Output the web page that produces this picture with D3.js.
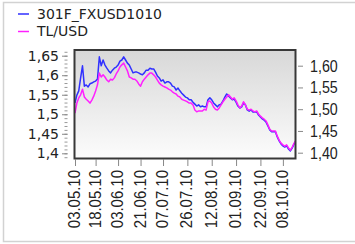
<!DOCTYPE html>
<html>
<head>
<meta charset="utf-8">
<script src="https://cdn.jsdelivr.net/npm/d3@7"></script>
<style>
  html, body { margin: 0; padding: 0; background: #fff; }
  svg { display: block; }
</style>
</head>
<body>
<div id="chart"></div>
<script>
// series names
const seriesNames = ['301F_FXUSD1010', 'TL/USD'];

// x tick labels and the trading-day index they sit on
const tickDates = ['03.05.10', '18.05.10', '03.06.10', '21.06.10', '07.07.10',
  '26.07.10', '12.08.10', '01.09.10', '22.09.10', '08.10.10'];
const tickIndex = [0, 11, 23, 35, 47, 60, 73, 86, 99, 111];

// left axis (futures) and right axis (spot) tick values
const leftTicks = [1.4, 1.45, 1.5, 1.55, 1.6, 1.65];
const rightTicks = [1.40, 1.45, 1.50, 1.55, 1.60];

// 301F_FXUSD1010, one value per trading day (left axis)
const futures = [
  1.529, 1.549, 1.560, 1.593, 1.624, 1.572, 1.575, 1.570, 1.578, 1.580,
  1.583, 1.585, 1.590, 1.647, 1.624, 1.639, 1.626, 1.618, 1.611, 1.606,
  1.613, 1.618, 1.621, 1.626, 1.636, 1.639, 1.647, 1.639, 1.631, 1.626,
  1.616, 1.606, 1.608, 1.608, 1.606, 1.603, 1.601, 1.606, 1.613, 1.613,
  1.618, 1.616, 1.616, 1.608, 1.598, 1.593, 1.585, 1.588, 1.580, 1.583,
  1.583, 1.580, 1.572, 1.570, 1.562, 1.567, 1.560, 1.554, 1.549, 1.544,
  1.542, 1.537, 1.537, 1.531, 1.526, 1.521, 1.524, 1.519, 1.521, 1.519,
  1.519, 1.537, 1.542, 1.537, 1.529, 1.524, 1.519, 1.524, 1.526, 1.534,
  1.544, 1.552, 1.547, 1.542, 1.537, 1.539, 1.531, 1.521, 1.516, 1.519,
  1.529, 1.524, 1.511, 1.508, 1.511, 1.506, 1.506, 1.506, 1.498, 1.493,
  1.488, 1.485, 1.480, 1.470, 1.460, 1.455, 1.455, 1.455, 1.442, 1.432,
  1.424, 1.419, 1.416, 1.419, 1.411, 1.406, 1.414, 1.424, 1.432
];

// TL/USD spot, one value per trading day (right axis)
const spot = [
  1.491, 1.514, 1.526, 1.533, 1.546, 1.528, 1.523, 1.519, 1.514, 1.521,
  1.530, 1.542, 1.556, 1.583, 1.574, 1.579, 1.574, 1.567, 1.563, 1.569,
  1.567, 1.572, 1.581, 1.588, 1.597, 1.602, 1.606, 1.597, 1.588, 1.574,
  1.572, 1.569, 1.569, 1.565, 1.558, 1.553, 1.563, 1.569, 1.574, 1.579,
  1.583, 1.583, 1.579, 1.574, 1.567, 1.560, 1.556, 1.553, 1.551, 1.549,
  1.546, 1.544, 1.540, 1.537, 1.535, 1.530, 1.528, 1.523, 1.521, 1.519,
  1.517, 1.514, 1.514, 1.510, 1.498, 1.494, 1.496, 1.496, 1.496, 1.500,
  1.498, 1.517, 1.519, 1.514, 1.505, 1.500, 1.498, 1.503, 1.510, 1.517,
  1.523, 1.528, 1.533, 1.528, 1.523, 1.526, 1.519, 1.510, 1.503, 1.507,
  1.517, 1.510, 1.500, 1.498, 1.500, 1.496, 1.494, 1.496, 1.489, 1.484,
  1.480, 1.477, 1.473, 1.464, 1.454, 1.450, 1.450, 1.450, 1.438, 1.429,
  1.422, 1.418, 1.415, 1.418, 1.411, 1.406, 1.413, 1.422, 1.429
];

const colors = ['#3030ff', '#ff20ff'];
const W = 355, H = 244;
const plot = { left: 74.5, right: 295.5, top: 50, bottom: 158.5 };

const svg = d3.select('#chart').append('svg')
  .attr('width', W)
  .attr('height', H);

// outer panel
svg.append('rect')
  .attr('x', 3.5).attr('y', 2.5)
  .attr('width', 400).attr('height', 239)
  .attr('fill', 'none')
  .attr('stroke', '#d2d2d2')
  .attr('stroke-width', 1.5);

const defs = svg.append('defs');
const grad = defs.append('linearGradient')
  .attr('id', 'bg').attr('x1', 0).attr('y1', 0).attr('x2', 0).attr('y2', 1);
grad.append('stop').attr('offset', '0%').attr('stop-color', '#d8d8d8');
grad.append('stop').attr('offset', '100%').attr('stop-color', '#fcfcfc');

defs.append('clipPath').attr('id', 'clip')
  .append('rect')
  .attr('x', plot.left).attr('y', plot.top)
  .attr('width', plot.right - plot.left).attr('height', plot.bottom - plot.top);

svg.append('rect')
  .attr('x', plot.left).attr('y', plot.top)
  .attr('width', plot.right - plot.left).attr('height', plot.bottom - plot.top)
  .attr('fill', 'url(#bg)');

const x = d3.scaleLinear().domain([0, futures.length - 1]).range([75, 296]);
const yL = d3.scaleLinear().domain([1.4, 1.65]).range([153.3, 55.7]);
const yR = d3.scaleLinear().domain([1.40, 1.60]).range([152.7, 65.7]);

const comma = (s) => s.replace('.', ',');

// left axis: minor ticks then major ticks with labels
const minor = d3.range(139, 167).map((d) => d / 100);
svg.append('g')
  .attr('transform', 'translate(67.5,0)')
  .call(d3.axisLeft(yL).tickValues(minor).tickSize(3).tickFormat(''))
  .call((g) => g.select('.domain').remove())
  .call((g) => g.selectAll('line').attr('stroke', '#999'));

const leftAxis = svg.append('g')
  .attr('transform', 'translate(67.5,0)')
  .call(d3.axisLeft(yL).tickValues(leftTicks).tickSize(5.5).tickPadding(3)
    .tickFormat((d) => comma(d3.format('.2~f')(d))));
leftAxis.select('.domain').remove();
leftAxis.selectAll('line').attr('stroke', '#888');
leftAxis.selectAll('text')
  .attr('font-family', '"DejaVu Sans", Verdana, sans-serif')
  .attr('font-size', 14)
  .attr('fill', '#222');

// right axis
const rightAxis = svg.append('g')
  .attr('transform', 'translate(298,0)')
  .call(d3.axisRight(yR).tickValues(rightTicks).tickSize(5)
    .tickFormat((d) => comma(d3.format('.2f')(d))));
rightAxis.select('.domain').remove();
rightAxis.selectAll('line').attr('stroke', '#888');
rightAxis.selectAll('text')
  .attr('x', null)
  .attr('transform', 'translate(12,0) scale(0.84,1)')
  .attr('font-family', '"Liberation Sans", Arial, sans-serif')
  .attr('font-size', 17)
  .attr('fill', '#222');

// bottom axis with rotated dates
const bottomAxis = svg.append('g')
  .attr('transform', 'translate(0,159.5)')
  .call(d3.axisBottom(x).tickValues(tickIndex).tickSize(6.5)
    .tickFormat((d, i) => tickDates[i]));
bottomAxis.select('.domain').remove();
bottomAxis.selectAll('line').attr('stroke', '#888');
bottomAxis.selectAll('text')
  .attr('y', null)
  .attr('dy', '0.27em')
  .attr('text-anchor', 'end')
  .attr('transform', 'translate(0,10.5) rotate(-90) scale(0.88,1)')
  .attr('font-family', '"Liberation Sans", Arial, sans-serif')
  .attr('font-size', 17)
  .attr('fill', '#222');

// lines
const lines = svg.append('g').attr('clip-path', 'url(#clip)');
lines.append('path')
  .datum(futures)
  .attr('fill', 'none')
  .attr('stroke', colors[0])
  .attr('stroke-width', 1.5)
  .attr('stroke-linejoin', 'round')
  .attr('d', d3.line().x((d, i) => x(i)).y((d) => yL(d)));
lines.append('path')
  .datum(spot)
  .attr('fill', 'none')
  .attr('stroke', colors[1])
  .attr('stroke-width', 1.5)
  .attr('stroke-linejoin', 'round')
  .attr('d', d3.line().x((d, i) => x(i)).y((d) => yR(d)));

// plot frame
svg.append('rect')
  .attr('x', plot.left).attr('y', plot.top)
  .attr('width', plot.right - plot.left).attr('height', plot.bottom - plot.top)
  .attr('fill', 'none')
  .attr('stroke', '#383838')
  .attr('stroke-width', 2);

// legend
const legend = svg.append('g')
  .selectAll('g')
  .data(seriesNames)
  .enter()
  .append('g')
  .attr('transform', (d, i) => 'translate(0,' + (14 + i * 17.5) + ')');

legend.append('line')
  .attr('x1', 18).attr('x2', 29)
  .attr('stroke', (d, i) => colors[i])
  .attr('stroke-width', 1.5);

legend.append('text')
  .attr('x', 37)
  .attr('y', 4.5)
  .attr('font-family', '"DejaVu Sans", Verdana, sans-serif')
  .attr('font-size', 14)
  .attr('fill', '#222')
  .text((d) => d);
</script>
</body>
</html>
